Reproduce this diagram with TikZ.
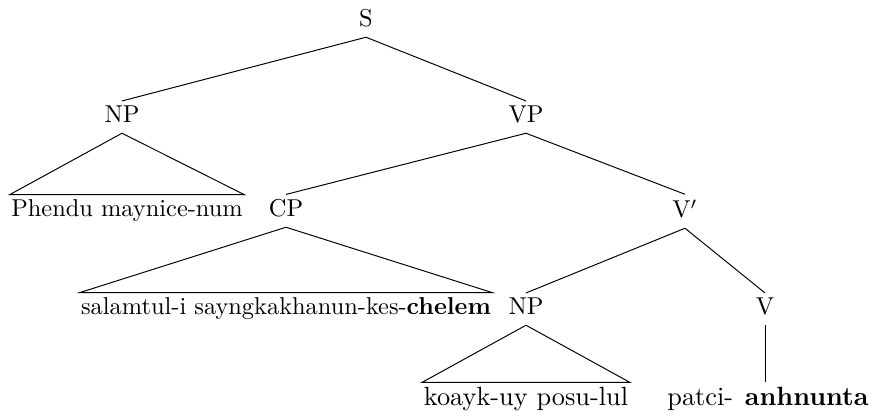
\documentclass[tikz,border=0pt]{standalone}
\begin{document}
\begin{tikzpicture}[
    x=0.41pt, y=-0.41pt,
    cat/.style={anchor=base, inner xsep=1pt, inner ysep=2pt, text depth=2pt},
    leaf/.style={anchor=base, inner xsep=0.5pt, inner ysep=2pt},
    lowleaf/.style={leaf, font=\fontsize{10.8}{13}\selectfont}
]
\useasboundingbox (0,0) rectangle (873,417);

\node[cat] (s) at (366,27) {S};
\node[cat] (np1) at (122,123) {NP};
\node[cat] (vp) at (526,123) {VP};
\node[leaf] (subj) at (127,217) {Phendu maynice-num};
\node[cat] (cp) at (286,217) {CP};
\node[cat] (vbar) at (685,218) {V$'$};
\node[leaf] (clause) at (286,315) {salamtul-i sayngkakhanun-kes-\textbf{chelem}};
\node[cat] (np2) at (526,315) {NP};
\node[cat] (v) at (765,315) {V};
\node[lowleaf] (obj) at (526,406) {koayk-uy posu-lul};
\node[lowleaf] (verb) at (768,406) {patci-\hspace{1.2pt} \textbf{anhnunta}};

\draw (s.south) -- (np1.north);
\draw (s.south) -- (vp.north);
\draw (vp.south) -- (cp.north);
\draw (vp.south) -- (vbar.north);
\draw (vbar.south) -- (np2.north);
\draw (vbar.south) -- (v.north);
\draw (v.south) -- (v.south |- verb.north);

% triangles
\draw (np1.south) -- (subj.north west) -- (subj.north east) -- cycle;
\draw (cp.south) -- (clause.north west) -- (clause.north east) -- cycle;
\draw (np2.south) -- (obj.north west) -- (obj.north east) -- cycle;

\end{tikzpicture}
\end{document}
